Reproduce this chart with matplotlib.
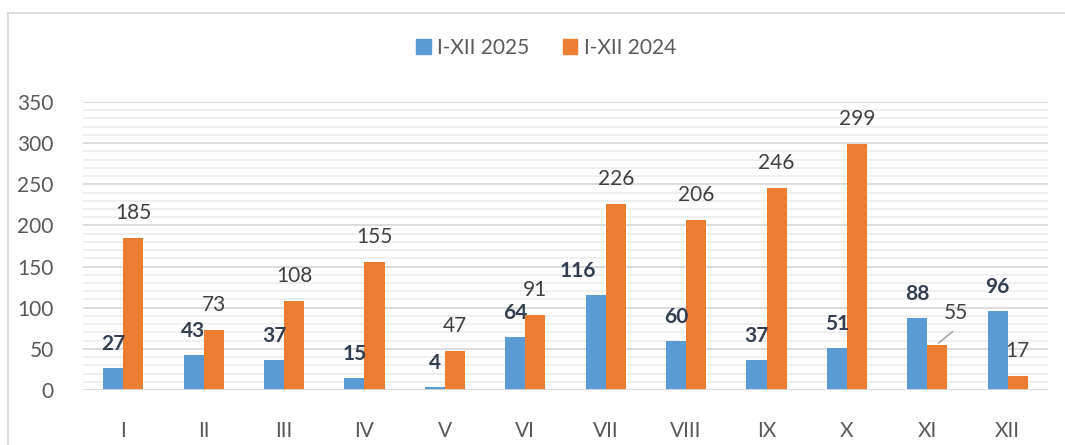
import matplotlib
matplotlib.use("Agg")
import matplotlib.pyplot as plt
import numpy as np
from matplotlib.patches import Rectangle

categories = ["I", "II", "III", "IV", "V", "VI", "VII", "VIII", "IX", "X", "XI", "XII"]
series_2025 = [27, 43, 37, 15, 4, 64, 116, 60, 37, 51, 88, 96]
series_2024 = [185, 73, 108, 155, 47, 91, 226, 206, 246, 299, 55, 17]
label_2025 = "I-XII 2025"
label_2024 = "I-XII 2024"
yticks = [0, 50, 100, 150, 200, 250, 300, 350]

plt.rcParams['font.family'] = ['Lato', 'DejaVu Sans']

W, H = 1065, 445
fig = plt.figure(figsize=(W / 100, H / 100), dpi=100)
fig.patch.set_facecolor("white")

# outer chart border (left & top visible)
fig.add_artist(plt.Line2D([7.5 / W, 7.5 / W], [0, 1 - 12.5 / H], transform=fig.transFigure,
                          color="#d9d9d9", lw=1.3))
fig.add_artist(plt.Line2D([7.5 / W, 1], [1 - 12.5 / H, 1 - 12.5 / H], transform=fig.transFigure,
                          color="#d9d9d9", lw=1.3))

left, right = 83 / W, 1048 / W
bottom, top = (H - 390) / H, (H - 102) / H
ax = fig.add_axes([left, bottom, right - left, top - bottom])

x = np.arange(len(categories))
w = 0.25
c_blue = "#5B9BD5"
c_orange = "#ED7D31"
ax.bar(x - w / 2, series_2025, w, color=c_blue, label=label_2025, zorder=3)
ax.bar(x + w / 2, series_2024, w, color=c_orange, label=label_2024, zorder=3)

ax.set_xlim(-0.5, len(categories) - 0.5)
ax.set_ylim(0, 350)

# gridlines
for v in range(10, 350, 10):
    if v % 50:
        ax.axhline(v, color="#ececec", lw=1.2, zorder=1)
for v in yticks[1:]:
    ax.axhline(v, color="#d9d9d9", lw=1.3, zorder=2)
ax.axhline(0, color="#d9d9d9", lw=1.3, zorder=4)

for s in ax.spines.values():
    s.set_visible(False)

FS = 15
ax.set_yticks(yticks)
ax.set_yticklabels([str(v) for v in yticks], fontsize=FS, color="#595959")
ax.set_xticks(x)
ax.set_xticklabels(categories, fontsize=FS, color="#595959")
ax.tick_params(axis="y", length=0, pad=21)
ax.tick_params(axis="x", length=0, pad=22)

# data labels
for i, v in enumerate(series_2025):
    dx = -18 if series_2025[i] > 100 and series_2025[i] < 120 and series_2024[i] > 200 else 0
    ax.annotate(str(v), (x[i] - w / 2, v), xytext=(dx, 24), textcoords="offset pixels",
                ha="center", va="center", fontsize=FS, fontweight="bold", color="#333F50", zorder=5)

for i, v in enumerate(series_2024):
    if v < series_2025[i] and v > 30:
        # label moved with leader line
        ax.annotate(str(v), (x[i] + w / 2, v), xytext=(18, 32), textcoords="offset pixels",
                    ha="center", va="center", fontsize=FS, color="#404040", zorder=5)
        ax.annotate("", (x[i] + w / 2 - 0.01, v), xytext=(18, 15), textcoords="offset pixels",
                    arrowprops=dict(arrowstyle="-", color="#a6a6a6", lw=1.2), zorder=5)
    else:
        ax.annotate(str(v), (x[i] + w / 2, v), xytext=(0, 25), textcoords="offset pixels",
                    ha="center", va="center", fontsize=FS, color="#404040", zorder=5)

handles = [Rectangle((0, 0), 1, 1, color=c_blue), Rectangle((0, 0), 1, 1, color=c_orange)]
fig.legend(handles, [label_2025, label_2024], loc="center", bbox_to_anchor=(546 / W, 1 - 48 / H),
           ncol=2, frameon=False, fontsize=FS, labelcolor="#595959", handlelength=0.7,
           handleheight=0.7, handletextpad=0.3, columnspacing=1.6)

fig.savefig("out.png", dpi=100, facecolor="white")
